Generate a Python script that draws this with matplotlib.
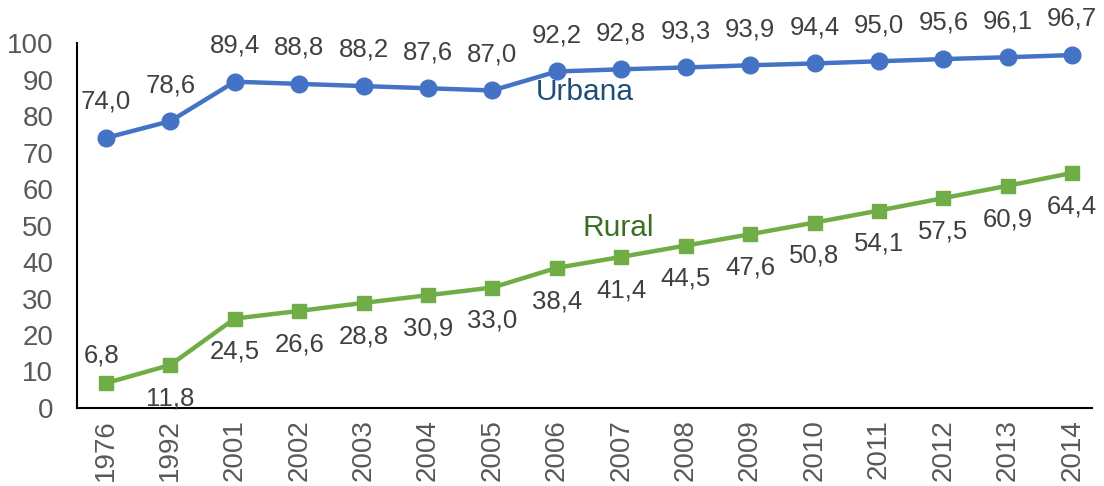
import matplotlib.pyplot as plt

plt.rcParams['font.family'] = ['Liberation Sans', 'DejaVu Sans']

# dados
anos = ['1976', '1992', '2001', '2002', '2003', '2004', '2005', '2006',
        '2007', '2008', '2009', '2010', '2011', '2012', '2013', '2014']
urbana = [74.0, 78.6, 89.4, 88.8, 88.2, 87.6, 87.0, 92.2,
          92.8, 93.3, 93.9, 94.4, 95.0, 95.6, 96.1, 96.7]
rural = [6.8, 11.8, 24.5, 26.6, 28.8, 30.9, 33.0, 38.4,
         41.4, 44.5, 47.6, 50.8, 54.1, 57.5, 60.9, 64.4]

azul = '#4472C4'
verde = '#70AD47'
cinza = '#404040'

fig = plt.figure(figsize=(11.04, 4.86), dpi=100)
ax = fig.add_axes([0.0697, 0.1605, 0.919, 0.751])

x = range(len(anos))
ax.plot(x, urbana, color=azul, lw=3.2, marker='o', ms=12)
ax.plot(x, rural, color=verde, lw=3.2, marker='s', ms=10.5)


def fmt(v):
    return f'{v:.1f}'.replace('.', ',')


for i, v in enumerate(urbana):
    ax.annotate(fmt(v), (i, v), xytext=(0, 26), textcoords='offset points',
                ha='center', va='center', fontsize=18.5, color=cinza)
for i, v in enumerate(rural):
    dy = 20 if i == 0 else -24
    dx = -3 if i == 0 else 0
    ax.annotate(fmt(v), (i, v), xytext=(dx, dy), textcoords='offset points',
                ha='center', va='center', fontsize=18.5, color=cinza)

ax.text(7.44, 86.6, 'Urbana', color='#1F4E79', fontsize=21.5, ha='center', va='center')
ax.text(7.95, 49.3, 'Rural', color='#3B6E22', fontsize=21.5, ha='center', va='center')

ax.set_xlim(-0.45, 15.3)
ax.set_ylim(0, 100)
ax.set_yticks(range(0, 101, 10))
ax.set_xticks(list(x))
ax.set_xticklabels(anos, rotation=90)
ax.tick_params(length=0, labelsize=20, labelcolor='#595959')
ax.tick_params(axis='y', pad=17)
ax.tick_params(axis='x', pad=8)
for s in ['top', 'right']:
    ax.spines[s].set_visible(False)
for s in ['left', 'bottom']:
    ax.spines[s].set_linewidth(1.5)
    ax.spines[s].set_color('black')

fig.savefig('out.png', dpi=100)
